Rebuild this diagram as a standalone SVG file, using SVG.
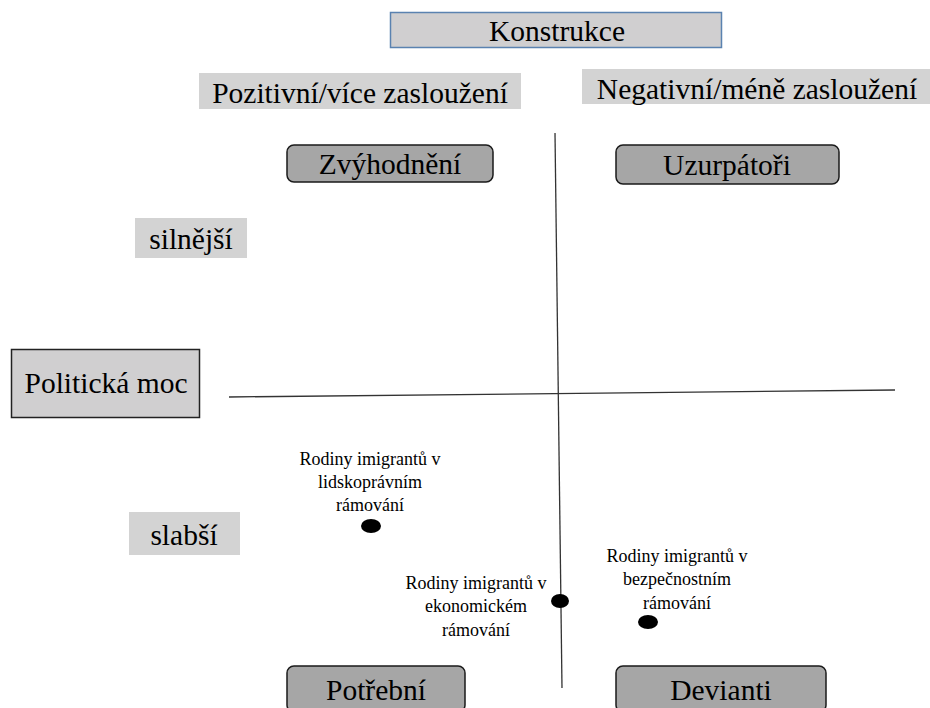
<svg xmlns="http://www.w3.org/2000/svg" width="930" height="708" viewBox="0 0 930 708">
<style>
text{fill:#000;text-anchor:middle;font-family:'Liberation Serif','Times New Roman',Times,serif}
.big{font-size:29.5px}
.sm{font-size:18px}
.lbl{fill:#d3d3d3}
.rr{fill:#a6a6a6;stroke:#1a1a1a;stroke-width:1.5}
.ax{stroke:#333;stroke-width:1.3;fill:none}
</style>
<rect width="930" height="708" fill="#fff"/>
<g id="konstrukce"><rect x="390.5" y="12.5" width="331" height="35" fill="#d0cfd0" stroke="#5a82b0" stroke-width="1.5"/><text class="big" x="557" y="41">Konstrukce</text></g>
<g id="pozitivni"><rect class="lbl" x="199" y="73" width="322" height="36"/><text class="big" x="360" y="103">Pozitivní/více zasloužení</text></g>
<g id="negativni"><rect class="lbl" x="582" y="69" width="348" height="35"/><text class="big" x="757" y="99">Negativní/méně zasloužení</text></g>
<g id="zvyhodneni"><rect class="rr" x="287" y="145" width="206" height="37" rx="7"/><text class="big" x="390" y="174">Zvýhodnění</text></g>
<g id="uzurpatori"><rect class="rr" x="616" y="145" width="223" height="39" rx="7"/><text class="big" x="727" y="175">Uzurpátoři</text></g>
<g id="silnejsi"><rect class="lbl" x="135" y="218" width="112" height="40"/><text class="big" x="191" y="249">silnější</text></g>
<g id="politicka-moc"><rect x="11.5" y="349.5" width="188" height="68" fill="#d0cfd0" stroke="#222" stroke-width="1.5"/><text class="big" x="106" y="393">Politická moc</text></g>
<g id="slabsi"><rect class="lbl" x="129" y="512" width="111" height="43"/><text class="big" x="184" y="545">slabší</text></g>
<g id="potrebni"><rect class="rr" x="287" y="666" width="178" height="46" rx="7"/><text class="big" x="376" y="700">Potřební</text></g>
<g id="devianti"><rect class="rr" x="616" y="666" width="210" height="46" rx="7"/><text class="big" x="721" y="700">Devianti</text></g>
<g id="connectors">
<line class="ax" x1="229" y1="397" x2="895" y2="390"/>
<line class="ax" x1="555" y1="133" x2="562" y2="688"/>
</g>
<g id="lidskopravni"><text class="sm"><tspan x="370" y="465">Rodiny imigrantů v</tspan><tspan x="370" y="488">lidskoprávním</tspan><tspan x="370" y="511">rámování</tspan></text><ellipse cx="371" cy="526" rx="10" ry="7"/></g>
<g id="ekonomicke"><text class="sm"><tspan x="476" y="589">Rodiny imigrantů v</tspan><tspan x="476" y="612">ekonomickém</tspan><tspan x="476" y="636">rámování</tspan></text><ellipse cx="560" cy="601" rx="9" ry="7"/></g>
<g id="bezpecnostni"><text class="sm"><tspan x="677" y="562">Rodiny imigrantů v</tspan><tspan x="677" y="585">bezpečnostním</tspan><tspan x="677" y="609">rámování</tspan></text><ellipse cx="648" cy="622" rx="10" ry="7"/></g>
</svg>
